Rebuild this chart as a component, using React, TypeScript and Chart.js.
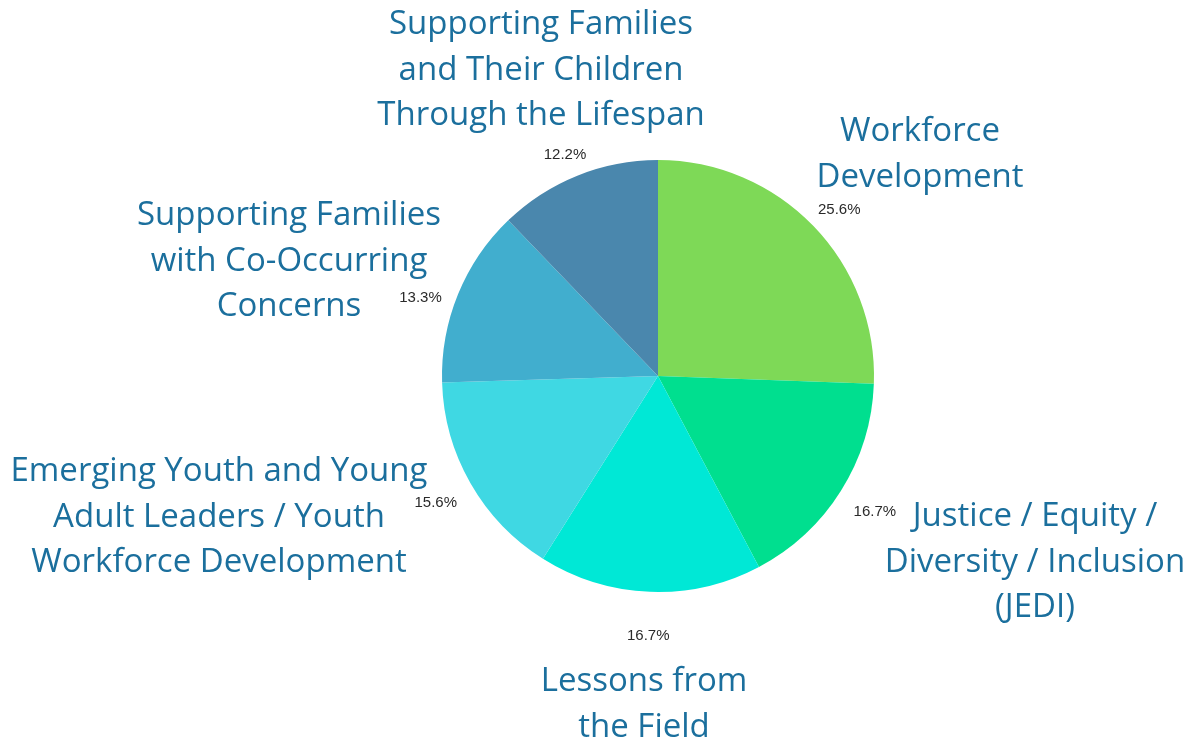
import React, { useEffect, useRef } from "react";
import { Chart, registerables } from "chart.js";

Chart.register(...registerables);

const categories = [
  "Workforce Development",
  "Justice / Equity / Diversity / Inclusion (JEDI)",
  "Lessons from the Field",
  "Emerging Youth and Young Adult Leaders / Youth Workforce Development",
  "Supporting Families with Co-Occurring Concerns",
  "Supporting Families and Their Children Through the Lifespan",
];
const values = [25.6, 16.7, 16.7, 15.6, 13.3, 12.2];
const percentLabels = ["25.6%", "16.7%", "16.7%", "15.6%", "13.3%", "12.2%"];
const colors = ["#7ed957", "#00df8f", "#00e8d6", "#3fd8e3", "#41aece", "#4a87ad"];

// wrapped category label lines, as shown in the picture
const labelLines = [
  ["Workforce", "Development"],
  ["Justice / Equity /", "Diversity / Inclusion", "(JEDI)"],
  ["Lessons from", "the Field"],
  ["Emerging Youth and Young", "Adult Leaders / Youth", "Workforce Development"],
  ["Supporting Families", "with Co-Occurring", "Concerns"],
  ["Supporting Families", "and Their Children", "Through the Lifespan"],
];

// layout for text blocks (center x, first line center y)
const labelAnchors = [
  [920, 132],
  [1035, 517],
  [644, 682],
  [219, 472],
  [289, 216],
  [541, 25],
];
const pctDistance = [246, 256, 260, 256, 250, 240];
const pctAngleShift = [0.025, 0, 0, 0, -0.07, -0.015];

const labelPlugin = {
  id: "outerLabels",
  afterDatasetsDraw(chart: any) {
    const ctx = chart.ctx;
    const meta = chart.getDatasetMeta(0);
    ctx.save();
    ctx.textAlign = "center";
    ctx.textBaseline = "middle";
    meta.data.forEach((arc: any, i: number) => {
      const mid = (arc.startAngle + arc.endAngle) / 2 + pctAngleShift[i];
      const d = pctDistance[i];
      const x = arc.x + Math.cos(mid) * d;
      const y = arc.y + Math.sin(mid) * d;
      ctx.fillStyle = "#2a2a2a";
      ctx.font = "15px 'Liberation Sans', Arial, sans-serif";
      ctx.fillText(percentLabels[i], x, y);
      ctx.fillStyle = "#1b6f9d";
      ctx.font = "33px 'Open Sans', sans-serif";
      const [cx, cy] = labelAnchors[i];
      labelLines[i].forEach((line, j) => {
        ctx.fillText(line, cx, cy + j * 45.5);
      });
    });
    ctx.restore();
  },
};

export default function App() {
  const ref = useRef<HTMLCanvasElement | null>(null);
  useEffect(() => {
    if (!ref.current) return;
    const chart = new Chart(ref.current, {
      type: "pie",
      data: {
        labels: categories,
        datasets: [
          {
            data: values,
            backgroundColor: colors,
            borderWidth: 0,
          },
        ],
      },
      options: {
        responsive: false,
        animation: false,
        layout: { padding: { left: 442, right: 326, top: 160, bottom: 154 } },
        plugins: {
          legend: { display: false },
          tooltip: { enabled: false },
        },
      },
      plugins: [labelPlugin],
    });
    return () => chart.destroy();
  }, []);
  return (
    <div style={{ position: "fixed", left: 0, top: 0, width: 1200, height: 746, background: "#fff" }}>
      <canvas ref={ref} width={1200} height={746} />
    </div>
  );
}
